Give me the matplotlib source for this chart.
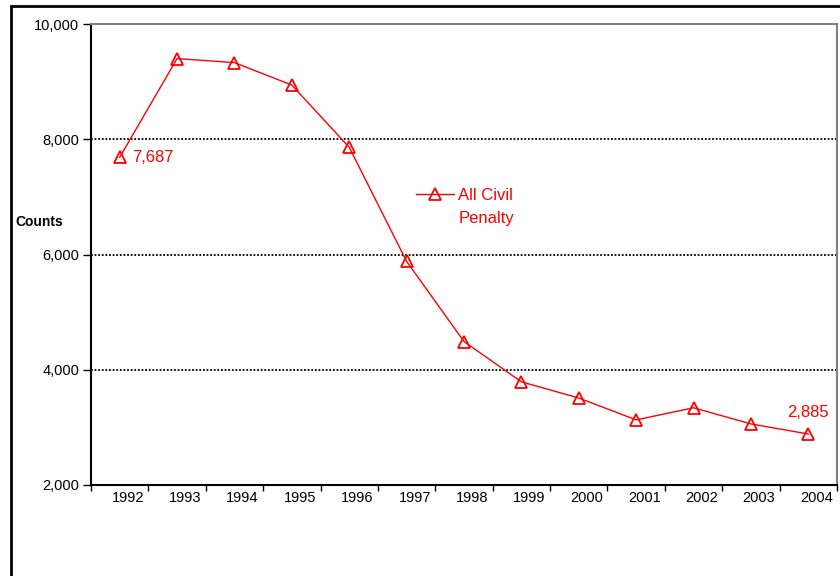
import matplotlib
matplotlib.use("Agg")
import matplotlib.pyplot as plt
from matplotlib.patches import Rectangle

plt.rcParams['font.family'] = ['Liberation Sans', 'DejaVu Sans']

years = ["1992", "1993", "1994", "1995", "1996", "1997", "1998",
         "1999", "2000", "2001", "2002", "2003", "2004"]
counts = [7687, 9400, 9330, 8940, 7860, 5880, 4490,
          3790, 3510, 3130, 3340, 3060, 2885]
series_label = "All Civil"
series_label2 = "Penalty"
y_ticks = [2000, 4000, 6000, 8000, 10000]
y_ticklabels = ["2,000", "4,000", "6,000", "8,000", "10,000"]

W, H = 840, 576
fig = plt.figure(figsize=(8.4, 5.76), dpi=100)
ax = fig.add_axes([91 / W, 1 - 485 / H, (837 - 91) / W, (485 - 24) / H])

red = '#ff0000'
x = list(range(len(years)))
line, = ax.plot(x, counts, color=red, lw=1.0, marker='^', markersize=8,
                markerfacecolor='none', markeredgecolor=red, markeredgewidth=1.3,
                label=series_label, zorder=5)

ax.set_xlim(-0.5, len(years) - 0.5)
ax.set_ylim(2000, 10000)

# y axis
ax.set_yticks(y_ticks)
ax.set_yticklabels(y_ticklabels, fontsize=10.5)
ax.tick_params(axis='y', direction='out', length=5.5, width=1, pad=3, colors='black')

# x axis: boundary ticks, labels slightly right of category centers
ax.set_xticks([i - 0.5 for i in range(len(years) + 1)])
ax.set_xticklabels([])
ax.tick_params(axis='x', which='major', direction='out', length=4, width=1)
ax.set_xticks([i + 0.14 for i in x], minor=True)
ax.set_xticklabels(years, minor=True, fontsize=10.5)
ax.tick_params(axis='x', which='minor', length=0, pad=4)

# grid
for v in y_ticks[1:-1]:
    ax.axhline(v, color='black', lw=1.3, ls=(0, (1, 1)), zorder=1)

for s in ['left', 'bottom']:
    ax.spines[s].set_color('black')
    ax.spines[s].set_linestyle((0, (1, 1)))
    ax.spines[s].set_linewidth(1.5)
for s in ['top', 'right']:
    ax.spines[s].set_color('#808080')
    ax.spines[s].set_linestyle((0, (1, 1)))
    ax.spines[s].set_linewidth(1.5)

# data labels
ax.annotate("7,687", (x[0], counts[0]), xytext=(12, 0), textcoords='offset pixels',
            ha='left', va='center', color=red, fontsize=12)
ax.annotate("2,885", (x[-1], counts[-1]), xytext=(0, 22), textcoords='offset pixels',
            ha='center', va='center', color=red, fontsize=12)

# legend
leg = ax.legend(handles=[line], loc='center left',
                bbox_to_anchor=(416 / W, 1 - 195 / H), bbox_transform=fig.transFigure,
                frameon=False, fontsize=12, handlelength=2.3, handletextpad=0.25,
                borderpad=0, borderaxespad=0)
for t in leg.get_texts():
    t.set_color(red)
fig.text(459 / W, 1 - 219 / H, series_label2, color=red, fontsize=12,
         ha='left', va='center')

fig.text(15 / W, 1 - 222 / H, "Counts", fontsize=10, fontweight='bold',
         ha='left', va='center')

# outer chart border
fig.patches.append(Rectangle((11 / W, -0.1), 1.1, 1 - 6 / H + 0.1,
                             transform=fig.transFigure, fill=False,
                             edgecolor='black', lw=2))

fig.savefig("out.png", dpi=100)
